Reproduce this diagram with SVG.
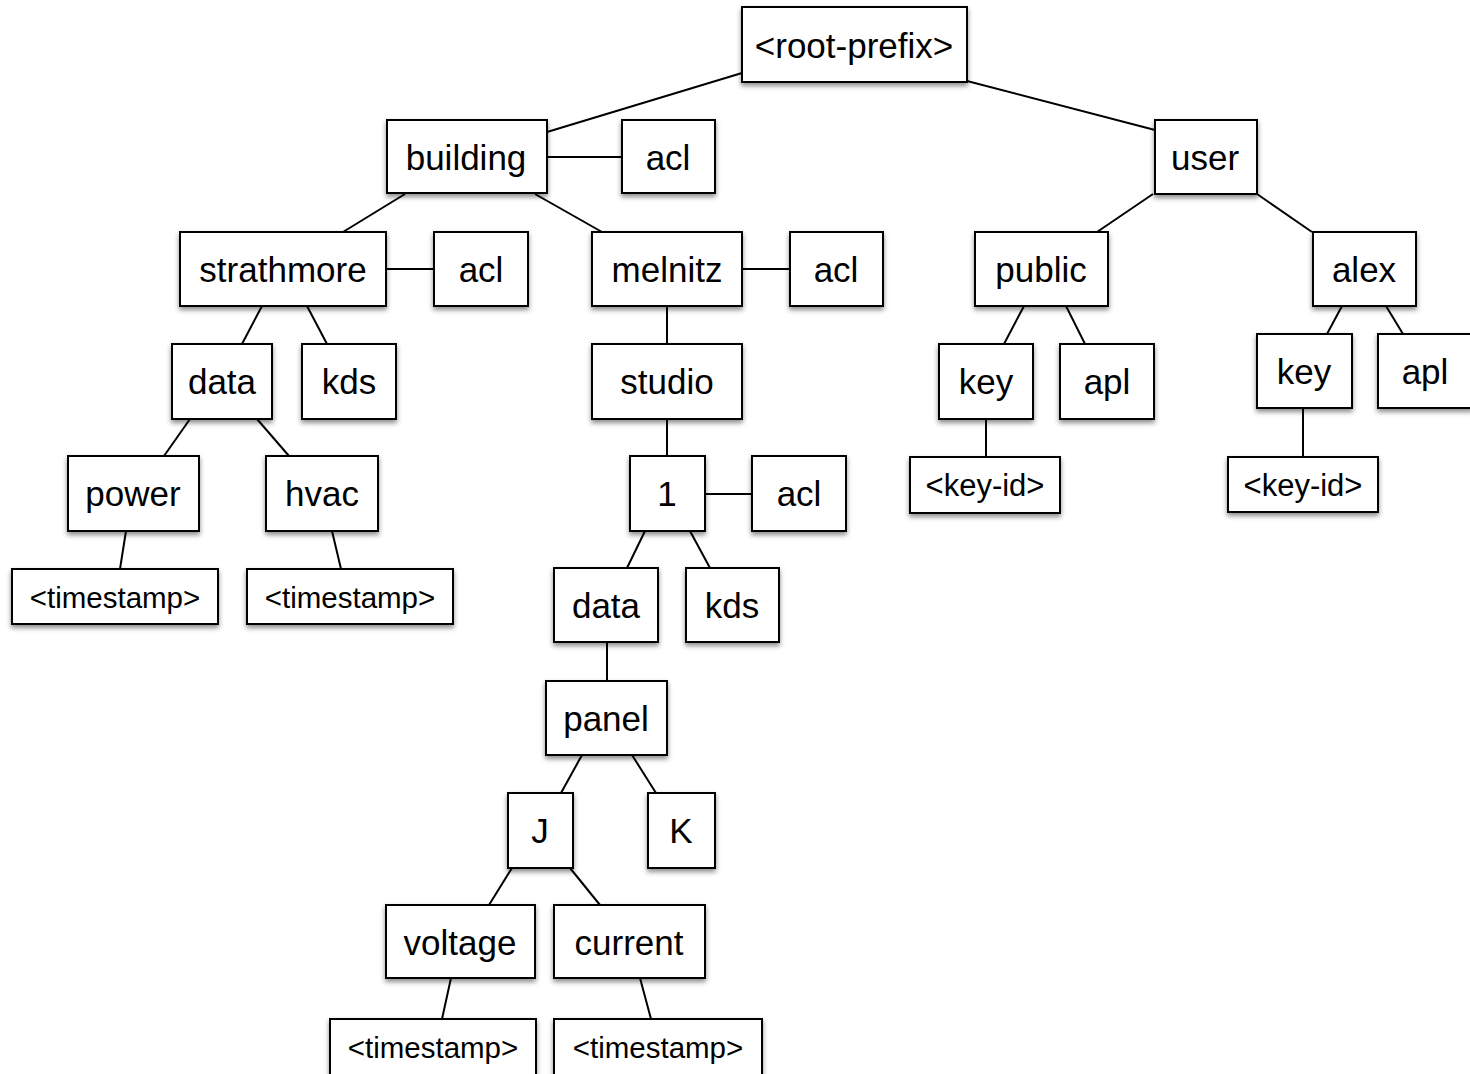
<svg xmlns="http://www.w3.org/2000/svg" width="1470" height="1074" viewBox="0 0 1470 1074">
<defs>
<filter id="sh" x="-20%" y="-20%" width="140%" height="160%">
<feDropShadow dx="0" dy="3" stdDeviation="2.5" flood-color="#000" flood-opacity="0.45"/>
</filter>
<style>
.box{fill:#fff;stroke:#000;stroke-width:2;filter:url(#sh)}
.t{font-family:"Liberation Sans",Arial,Helvetica,sans-serif;font-size:35px;fill:#000;text-anchor:middle;dominant-baseline:central}
.s{font-size:29.5px}
.k{font-size:31px}
.c line{stroke:#000;stroke-width:2}
</style>
</defs>
<rect width="1470" height="1074" fill="#fff"/>
<g class="c" id="connectors">
<line x1="742" y1="73" x2="547" y2="132"/>
<line x1="967" y1="81" x2="1155" y2="130"/>
<line x1="547" y1="157" x2="622" y2="157"/>
<line x1="405" y1="194" x2="343" y2="232"/>
<line x1="535" y1="194" x2="602" y2="232"/>
<line x1="386" y1="269" x2="434" y2="269"/>
<line x1="262" y1="306" x2="242" y2="344"/>
<line x1="307" y1="306" x2="327" y2="344"/>
<line x1="190" y1="419" x2="164" y2="456"/>
<line x1="257" y1="419" x2="289" y2="456"/>
<line x1="126" y1="531" x2="120" y2="569"/>
<line x1="332" y1="531" x2="341" y2="569"/>
<line x1="742" y1="269" x2="790" y2="269"/>
<line x1="667" y1="306" x2="667" y2="344"/>
<line x1="667" y1="419" x2="667" y2="456"/>
<line x1="705" y1="494" x2="752" y2="494"/>
<line x1="645" y1="531" x2="627" y2="568"/>
<line x1="690" y1="531" x2="710" y2="568"/>
<line x1="607" y1="642" x2="607" y2="681"/>
<line x1="582" y1="755" x2="561" y2="793"/>
<line x1="632" y1="755" x2="656" y2="793"/>
<line x1="512" y1="868" x2="489" y2="905"/>
<line x1="570" y1="868" x2="600" y2="905"/>
<line x1="451" y1="978" x2="442" y2="1019"/>
<line x1="640" y1="978" x2="651" y2="1019"/>
<line x1="1153" y1="194" x2="1097" y2="232"/>
<line x1="1257" y1="194" x2="1312" y2="232"/>
<line x1="1024" y1="306" x2="1004" y2="344"/>
<line x1="1066" y1="306" x2="1085" y2="344"/>
<line x1="986" y1="419" x2="986" y2="457"/>
<line x1="1342" y1="306" x2="1327" y2="334"/>
<line x1="1386" y1="306" x2="1403" y2="334"/>
<line x1="1303" y1="408" x2="1303" y2="457"/>
</g>
<g id="root"><rect class="box" x="742" y="7" width="225" height="75"/><text class="t" x="854" y="45">&lt;root-prefix&gt;</text></g>
<g id="building"><rect class="box" x="387" y="120" width="160" height="73"/><text class="t" x="466" y="157">building</text></g>
<g id="acl1"><rect class="box" x="622" y="120" width="93" height="73"/><text class="t" x="668" y="157">acl</text></g>
<g id="user"><rect class="box" x="1155" y="120" width="102" height="74"/><text class="t" x="1205" y="157">user</text></g>
<g id="strathmore"><rect class="box" x="180" y="232" width="206" height="74"/><text class="t" x="283" y="269">strathmore</text></g>
<g id="acl2"><rect class="box" x="434" y="232" width="94" height="74"/><text class="t" x="481" y="269">acl</text></g>
<g id="melnitz"><rect class="box" x="592" y="232" width="150" height="74"/><text class="t" x="667" y="269">melnitz</text></g>
<g id="acl3"><rect class="box" x="790" y="232" width="93" height="74"/><text class="t" x="836" y="269">acl</text></g>
<g id="public"><rect class="box" x="975" y="232" width="133" height="74"/><text class="t" x="1041" y="269">public</text></g>
<g id="alex"><rect class="box" x="1313" y="232" width="103" height="74"/><text class="t" x="1364" y="269">alex</text></g>
<g id="data1"><rect class="box" x="172" y="344" width="100" height="75"/><text class="t" x="222" y="381">data</text></g>
<g id="kds1"><rect class="box" x="302" y="344" width="94" height="75"/><text class="t" x="349" y="381">kds</text></g>
<g id="studio"><rect class="box" x="592" y="344" width="150" height="75"/><text class="t" x="667" y="381">studio</text></g>
<g id="key1"><rect class="box" x="939" y="344" width="94" height="75"/><text class="t" x="986" y="381">key</text></g>
<g id="apl1"><rect class="box" x="1060" y="344" width="94" height="75"/><text class="t" x="1107" y="381">apl</text></g>
<g id="key2"><rect class="box" x="1257" y="334" width="95" height="74"/><text class="t" x="1304" y="371">key</text></g>
<g id="apl2"><rect class="box" x="1378" y="334" width="95" height="74"/><text class="t" x="1425" y="371">apl</text></g>
<g id="keyid1"><rect class="box" x="910" y="457" width="150" height="56"/><text class="t k" x="985" y="485">&lt;key-id&gt;</text></g>
<g id="keyid2"><rect class="box" x="1228" y="457" width="150" height="55"/><text class="t k" x="1303" y="485">&lt;key-id&gt;</text></g>
<g id="power"><rect class="box" x="68" y="456" width="131" height="75"/><text class="t" x="133" y="493">power</text></g>
<g id="hvac"><rect class="box" x="266" y="456" width="112" height="75"/><text class="t" x="322" y="493">hvac</text></g>
<g id="ts1"><rect class="box" x="12" y="569" width="206" height="55"/><text class="t s" x="115" y="597">&lt;timestamp&gt;</text></g>
<g id="ts2"><rect class="box" x="247" y="569" width="206" height="55"/><text class="t s" x="350" y="597">&lt;timestamp&gt;</text></g>
<g id="n1"><rect class="box" x="630" y="456" width="75" height="75"/><text class="t" x="667" y="493">1</text></g>
<g id="acl4"><rect class="box" x="752" y="456" width="94" height="75"/><text class="t" x="799" y="493">acl</text></g>
<g id="data2"><rect class="box" x="554" y="568" width="104" height="74"/><text class="t" x="606" y="605">data</text></g>
<g id="kds2"><rect class="box" x="686" y="568" width="93" height="74"/><text class="t" x="732" y="605">kds</text></g>
<g id="panel"><rect class="box" x="546" y="681" width="121" height="74"/><text class="t" x="606" y="718">panel</text></g>
<g id="J"><rect class="box" x="508" y="793" width="65" height="75"/><text class="t" x="540" y="830">J</text></g>
<g id="K"><rect class="box" x="648" y="793" width="67" height="75"/><text class="t" x="681" y="830">K</text></g>
<g id="voltage"><rect class="box" x="386" y="905" width="149" height="73"/><text class="t" x="460" y="942">voltage</text></g>
<g id="current"><rect class="box" x="554" y="905" width="151" height="73"/><text class="t" x="629" y="942">current</text></g>
<g id="ts3"><rect class="box" x="330" y="1019" width="206" height="56"/><text class="t s" x="433" y="1047">&lt;timestamp&gt;</text></g>
<g id="ts4"><rect class="box" x="554" y="1019" width="208" height="56"/><text class="t s" x="658" y="1047">&lt;timestamp&gt;</text></g>
</svg>
